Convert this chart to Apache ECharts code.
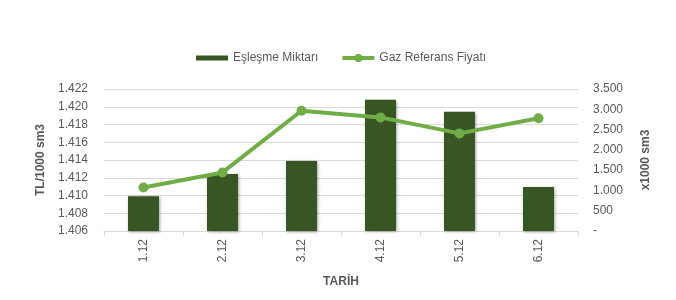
<!DOCTYPE html>
<html><head><meta charset="utf-8">
<script src="https://cdn.jsdelivr.net/npm/echarts@6/dist/echarts.min.js"></script>
<style>html,body{margin:0;padding:0;background:#fff}#c{width:676px;height:300px}</style>
</head><body><div id="c"></div>
<script>
const categories = ['1.12','2.12','3.12','4.12','5.12','6.12'];
const eslesmeMiktari = [859, 1403, 1725, 3235, 2938, 1082];
const gazReferansFiyati = [1410.9, 1412.6, 1419.55, 1418.8, 1417.0, 1418.7];
const leftTicks = {min:1406, max:1422, interval:2};
const rightTicks = {min:0, max:3500, interval:500};

function dotThousands(v){
  const s = Math.round(v).toString();
  return s.replace(/\B(?=(\d{3})+(?!\d))/g, '.');
}
const FONT = 'Liberation Sans';
const chart = echarts.init(document.getElementById('c'), null, {renderer:'canvas'});
chart.setOption({
  animation:false,
  backgroundColor:'#fff',
  textStyle:{fontFamily:FONT},
  legend:{
    left:196, top:52, padding:0, itemWidth:32, itemHeight:10, itemGap:22,
    textStyle:{color:'#595959', fontSize:12, fontFamily:FONT},
    data:[{name:'Eşleşme Miktarı', icon:'path://M0,0 M32,10 M0,2.5 L32,2.5 L32,7.5 L0,7.5 Z'},
          {name:'Gaz Referans Fiyatı', lineStyle:{width:4, color:'#70AD47'}}]
  },
  grid:{left:104, right:98, top:89, bottom:69},
  xAxis:{
    type:'category', data:categories, boundaryGap:true,
    name:'TARİH', nameLocation:'middle', nameGap:45,
    nameTextStyle:{color:'#595959', fontSize:12, fontWeight:'bold', fontFamily:FONT},
    axisLine:{lineStyle:{color:'#d9d9d9'}},
    axisTick:{show:true, length:5, lineStyle:{color:'#d9d9d9'}},
    axisLabel:{rotate:90, color:'#595959', fontSize:12, margin:8, fontFamily:FONT}
  },
  yAxis:[{
    type:'value', min:leftTicks.min, max:leftTicks.max, interval:leftTicks.interval,
    name:'TL/1000 sm3', nameLocation:'middle', nameRotate:90, nameGap:56,
    nameTextStyle:{color:'#595959', fontSize:12, fontWeight:'bold', fontFamily:FONT},
    axisLine:{show:false}, axisTick:{show:false},
    axisLabel:{color:'#595959', fontSize:12, margin:16, fontFamily:FONT, formatter:v=>dotThousands(v)},
    splitLine:{lineStyle:{color:'#d9d9d9'}}
  },{
    type:'value', min:rightTicks.min, max:rightTicks.max, interval:rightTicks.interval,
    name:'x1000 sm3', nameLocation:'middle', nameRotate:90, nameGap:62,
    nameTextStyle:{color:'#595959', fontSize:12, fontWeight:'bold', fontFamily:FONT},
    axisLine:{show:false}, axisTick:{show:false},
    axisLabel:{color:'#595959', fontSize:12, margin:15, fontFamily:FONT, formatter:v=> v===0 ? '-' : dotThousands(v)},
    splitLine:{show:false}
  }],
  series:[{
    name:'Eşleşme Miktarı', type:'bar', yAxisIndex:1, data:eslesmeMiktari, barWidth:31,
    itemStyle:{color:'#375623', shadowBlur:3, shadowColor:'rgba(0,0,0,0.35)', shadowOffsetX:1, shadowOffsetY:1}
  },{
    name:'Gaz Referans Fiyatı', type:'line', yAxisIndex:0, data:gazReferansFiyati,
    symbol:'circle', symbolSize:10,
    lineStyle:{color:'#70AD47', width:4},
    itemStyle:{color:'#70AD47'}
  }]
});
</script></body></html>
